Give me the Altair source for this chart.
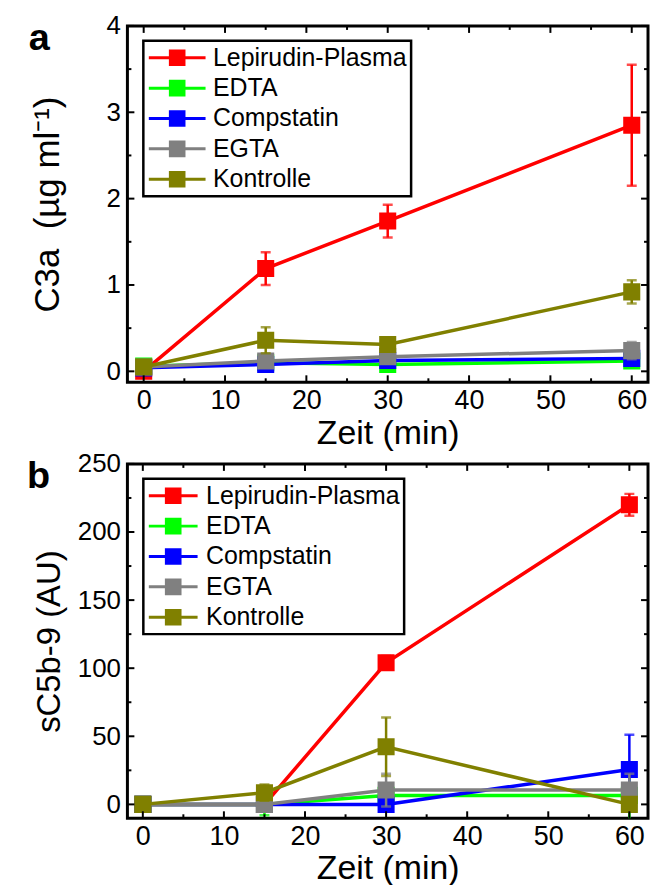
import altair as alt
import pandas as pd

# ---------------- data ----------------
times = [0, 15, 30, 60]
series = ["Lepirudin-Plasma", "EDTA", "Compstatin", "EGTA", "Kontrolle"]
colors = ["#ff0000", "#00ff00", "#0000ff", "#808080", "#808000"]

# Panel a: C3a (µg/ml)
c3a_lep = [0.0, 1.19, 1.74, 2.85]
c3a_lep_err = [0.04, 0.19, 0.19, 0.70]
c3a_edta = [0.06, 0.10, 0.08, 0.12]
c3a_edta_err = [0.08, 0.04, 0.07, 0.05]
c3a_comp = [0.04, 0.08, 0.125, 0.15]
c3a_comp_err = [0.03, 0.05, 0.05, 0.07]
c3a_egta = [0.05, 0.12, 0.17, 0.24]
c3a_egta_err = [0.04, 0.07, 0.08, 0.10]
c3a_kon = [0.05, 0.36, 0.31, 0.92]
c3a_kon_err = [0.03, 0.15, 0.05, 0.135]

# Panel b: sC5b-9 (AU)
c5_lep = [0.0, 0.0, 104.0, 220.0]
c5_lep_err = [1.0, 2.0, 5.0, 8.0]
c5_edta = [0.0, 0.0, 6.6, 6.6]
c5_edta_err = [1.0, 8.0, 2.0, 22.0]
c5_comp = [0.0, 0.0, 0.0, 25.6]
c5_comp_err = [1.0, 1.0, 2.0, 25.5]
c5_egta = [0.0, 0.0, 10.5, 10.5]
c5_egta_err = [1.0, 1.0, 12.0, 12.0]
c5_kon = [0.0, 8.6, 42.3, 0.0]
c5_kon_err = [1.0, 6.0, 21.5, 2.0]

x_major = [0, 10, 20, 30, 40, 50, 60]
x_minor = [5, 15, 25, 35, 45, 55]
a_y_major = [0, 1, 2, 3, 4]
a_y_minor = [0.5, 1.5, 2.5, 3.5]
b_y_major = [0, 50, 100, 150, 200, 250]
b_y_minor = [25, 75, 125, 175, 225]

FONT = "Liberation Sans"


def make_df(means, errs):
    rows = []
    for s, m, e in zip(series, means, errs):
        for t, v, err in zip(times, m, e):
            rows.append({"series": s, "t": t, "v": v, "lo": v - err, "hi": v + err})
    return pd.DataFrame(rows)


df_a = make_df([c3a_lep, c3a_edta, c3a_comp, c3a_egta, c3a_kon],
               [c3a_lep_err, c3a_edta_err, c3a_comp_err, c3a_egta_err, c3a_kon_err])
df_b = make_df([c5_lep, c5_edta, c5_comp, c5_egta, c5_kon],
               [c5_lep_err, c5_edta_err, c5_comp_err, c5_egta_err, c5_kon_err])


def panel(df, xdom, ydom, W, H, ytitle, ymaj, ymin, letter, letter_x, title_x,
          sym_path, sym_size, label_offset, ytitle_size):
    xs = alt.Scale(domain=xdom, nice=False, zero=False)
    ys = alt.Scale(domain=ydom, nice=False, zero=False)
    cs = alt.Scale(domain=series, range=colors)
    xaxis = alt.Axis(title="Zeit (min)", values=x_major, labelPadding=18,
                     labelBaseline="middle", titleY=51, titleBaseline="middle",
                     labelFontSize=27, titleFontSize=34)
    yaxis = alt.Axis(title=ytitle, values=ymaj, labelPadding=7,
                     titleX=title_x, titleBaseline="middle",
                     labelFontSize=26, titleFontSize=ytitle_size)
    leg = alt.Legend(orient="none", legendX=16, legendY=15, title=None,
                     symbolType=sym_path, symbolSize=sym_size, symbolOpacity=1,
                     symbolStrokeWidth=3, labelOffset=label_offset, labelLimit=0,
                     clipHeight=26, rowPadding=4.5, padding=4,
                     strokeColor="black", labelFontSize=25, labelFont=FONT,
                     labelColor="black")
    xe = alt.X("t:Q", scale=xs, axis=xaxis)
    col = alt.Color("series:N", scale=cs, legend=leg)

    def Y(f):
        return alt.Y(f, scale=ys, axis=yaxis)

    layers = []
    for s in series:
        d = df[df.series == s]
        base = alt.Chart(d)
        layers.append(base.mark_rule(strokeWidth=2.5, clip=True).encode(
            x=xe, y=Y("lo:Q"), y2="hi:Q", color=col))
        layers.append(base.mark_tick(orient="horizontal", size=10, thickness=2.5, clip=True).encode(
            x=xe, y=Y("hi:Q"), color=col))
        layers.append(base.mark_tick(orient="horizontal", size=10, thickness=2.5, clip=True).encode(
            x=xe, y=Y("lo:Q"), color=col))
        layers.append(base.mark_line(strokeWidth=3.5).encode(
            x=xe, y=Y("v:Q"), color=col))
        layers.append(base.mark_square(filled=True, size=200, strokeWidth=3, opacity=1).encode(
            x=xe, y=Y("v:Q"), color=col,
            stroke=alt.Stroke("series:N", scale=alt.Scale(domain=series, range=colors), legend=leg)))

    # inward ticks on all four sides
    def xt(vals, ln):
        c = alt.Chart(pd.DataFrame({"t": vals})).mark_rule(color="black", strokeWidth=2)
        return [
            c.encode(x=xe, y=alt.value(H), y2=alt.value(H - ln)),
            c.encode(x=xe, y=alt.value(0), y2=alt.value(ln)),
        ]

    def yt(vals, ln):
        c = alt.Chart(pd.DataFrame({"v": vals})).mark_rule(color="black", strokeWidth=2)
        return [
            c.encode(y=Y("v:Q"), x=alt.value(0), x2=alt.value(ln)),
            c.encode(y=Y("v:Q"), x=alt.value(W), x2=alt.value(W - ln)),
        ]

    layers += xt(x_major, 7) + xt(x_minor, 4) + yt(ymaj, 7) + yt(ymin, 4)
    layers.append(alt.Chart(pd.DataFrame({"lab": [letter]})).mark_text(
        fontSize=38, fontWeight="bold", font=FONT, align="left", baseline="alphabetic",
        color="black").encode(x=alt.value(letter_x), y=alt.value(24), text="lab:N"))
    return alt.layer(*layers).properties(width=W, height=H)


path_a = "M-1,0L1,0M-0.24,-0.24L0.24,-0.24L0.24,0.24L-0.24,0.24Z"
path_b = "M-1,0L1,0M-0.28,-0.28L0.28,-0.28L0.28,0.28L-0.28,0.28Z"

pa = panel(df_a, [-2, 62], [-0.127, 4], 523, 358, "C3a\u00a0\u00a0(µg ml⁻¹)",
           a_y_major, a_y_minor, "a", -99, -80, path_a, 57 * 57, 6, 35)
pb = panel(df_b, [-1.9, 62.3], [-10.2, 250], 523, 356, "sC5b-9 (AU)",
           b_y_major, b_y_minor, "b", -101, -78, path_b, 49 * 49, 7, 33)

chart = alt.vconcat(pa, pb, spacing=82, bounds="flush").resolve_scale(
    color="independent", stroke="independent", x="independent", y="independent"
).properties(
    padding={"left": 25, "top": 9, "right": 0, "bottom": 0}
).configure_view(stroke="black", strokeWidth=3).configure_axis(
    domain=False, ticks=False, grid=False, labelFont=FONT, titleFont=FONT,
    labelColor="black", titleColor="black", titleFontWeight="normal"
).configure_legend(strokeWidth=2.5)

chart.save("out.html", embed_options={"renderer": "svg", "actions": False})
